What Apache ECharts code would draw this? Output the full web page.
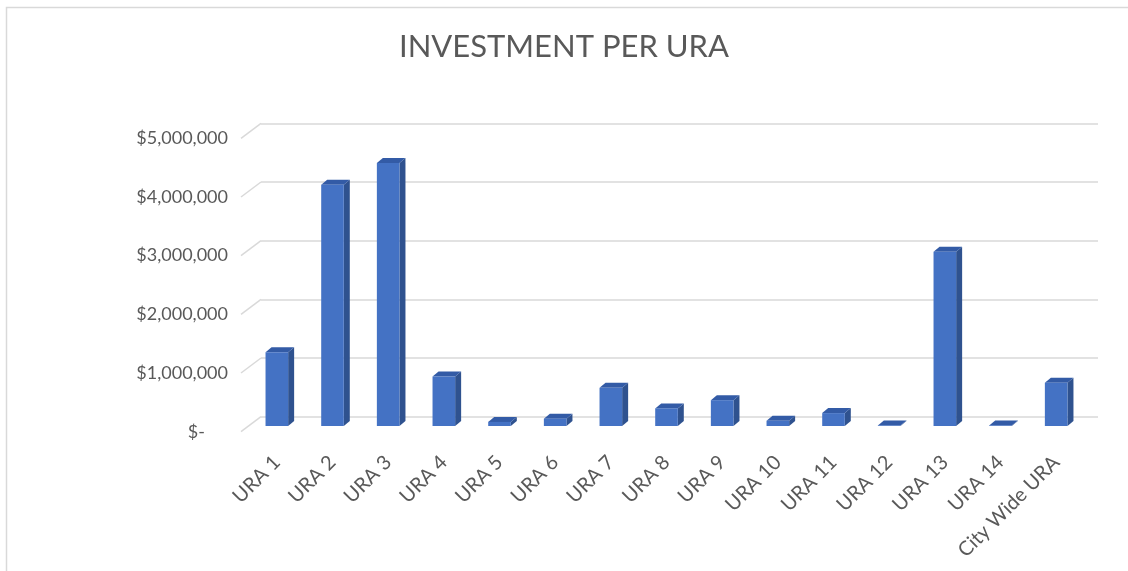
<!DOCTYPE html>
<html>
<head>
    <meta charset="utf-8"/>
    <style>
        html, body {
            height: 100%;
            margin: 0;
            padding: 0;
            background: #ffffff;
            overflow: hidden;
        }

        .container {
            width: 1128px;
            height: 571px;
        }
    </style>
</head>
<body>
<div id="main" class="container"></div>
<script src="https://cdn.jsdelivr.net/npm/echarts@6/dist/echarts.min.js"></script>
<script type="text/javascript">
    // 数据
    var categories = ['URA 1', 'URA 2', 'URA 3', 'URA 4', 'URA 5', 'URA 6', 'URA 7', 'URA 8',
        'URA 9', 'URA 10', 'URA 11', 'URA 12', 'URA 13', 'URA 14', 'City Wide URA'];
    var investment = [1255000, 4110000, 4480000, 845000, 70000, 125000, 650000, 300000,
        440000, 90000, 220000, 10000, 2970000, 10000, 735000];
    var yTicks = [0, 1000000, 2000000, 3000000, 4000000, 5000000];
    var yTickLabels = ['$-', '$1,000,000', '$2,000,000', '$3,000,000', '$4,000,000', '$5,000,000'];

    var FONT = 'Lato';
    var myChart = echarts.init(document.getElementById('main'));

    var option = {
        animation: false,
        title: {
            text: 'INVESTMENT PER URA',
            left: 'center',
            top: 26,
            textStyle: {
                color: '#595959',
                fontSize: 31,
                fontWeight: 'normal',
                fontFamily: FONT
            }
        },
        graphic: [{
            type: 'rect',
            shape: {x: 6.5, y: 7.5, width: 1300, height: 800},
            style: {fill: 'none', stroke: '#d9d9d9', lineWidth: 1.5},
            silent: true
        }],
        grid: [
            // 背面墙
            {left: 261, right: 30, top: 123.3, bottom: 154.3},
            // 柱子
            {left: 249, right: 44, top: 132.5, bottom: 145},
            // 前面（标签）
            {left: 240, right: 50, top: 138, bottom: 139}
        ],
        xAxis: [
            {gridIndex: 0, type: 'category', data: categories, show: false},
            {
                gridIndex: 1, type: 'category', data: categories,
                axisLine: {show: false}, axisTick: {show: false},
                axisLabel: {
                    interval: 0, rotate: 45, margin: 33,
                    color: '#595959', fontSize: 20, fontFamily: FONT
                }
            },
            {gridIndex: 2, type: 'category', data: categories, show: false}
        ],
        yAxis: [
            {
                gridIndex: 0, type: 'value', min: 0, max: 5000000, interval: 1000000,
                axisLine: {show: false}, axisTick: {show: false}, axisLabel: {show: false},
                splitLine: {show: true, lineStyle: {color: '#d9d9d9', width: 1.5}}
            },
            {
                gridIndex: 1, type: 'value', min: 0, max: 5000000, interval: 1000000,
                show: false
            },
            {
                gridIndex: 2, type: 'value', min: 0, max: 5000000, interval: 1000000,
                axisLine: {show: false}, axisTick: {show: false}, splitLine: {show: false},
                axisLabel: {
                    margin: 12, color: '#595959', fontSize: 18, fontFamily: FONT,
                    formatter: function (v) {
                        var s = yTickLabels[yTicks.indexOf(v)];
                        return v === 0 ? '{z|' + s + '}' : s;
                    },
                    rich: {
                        z: {padding: [0, 23, 0, 0], color: '#595959', fontSize: 18, fontFamily: FONT}
                    }
                }
            }
        ],
        series: [
            // 左侧斜线
            {
                type: 'custom',
                xAxisIndex: 0, yAxisIndex: 0,
                silent: true,
                data: yTicks.map(function (v) { return [0, v]; }),
                renderItem: function (params, api) {
                    var p = api.coord([0, api.value(1)]);
                    var x = params.coordSys.x;
                    return {
                        type: 'line',
                        shape: {x1: x, y1: p[1], x2: x - 20, y2: p[1] + 15},
                        style: {stroke: '#d9d9d9', lineWidth: 1.5}
                    };
                }
            },
            // 3D 柱子
            {
                type: 'custom',
                xAxisIndex: 1, yAxisIndex: 1,
                data: investment.map(function (v, i) { return [i, v]; }),
                renderItem: function (params, api) {
                    var i = api.value(0);
                    var base = api.coord([i, 0]);
                    var top = api.coord([i, api.value(1)]);
                    var w = 22.6, dx = 6, dy = 5;
                    var x0 = base[0] - w / 2, x1 = base[0] + w / 2;
                    var yb = base[1], yt = top[1];
                    return {
                        type: 'group',
                        children: [
                            {
                                type: 'polygon',
                                shape: {points: [[x1, yb], [x1 + dx, yb - dy], [x1 + dx, yt - dy], [x1, yt]]},
                                style: {fill: '#2F528F'}
                            },
                            {
                                type: 'polygon',
                                shape: {points: [[x0, yt], [x1, yt], [x1 + dx, yt - dy], [x0 + dx, yt - dy]]},
                                style: {fill: '#335BA6'}
                            },
                            {
                                type: 'rect',
                                shape: {x: x0, y: yt, width: w, height: yb - yt},
                                style: {fill: '#4472C4'}
                            }
                        ]
                    };
                }
            }
        ]
    };

    myChart.setOption(option);
</script>
</body>
</html>
